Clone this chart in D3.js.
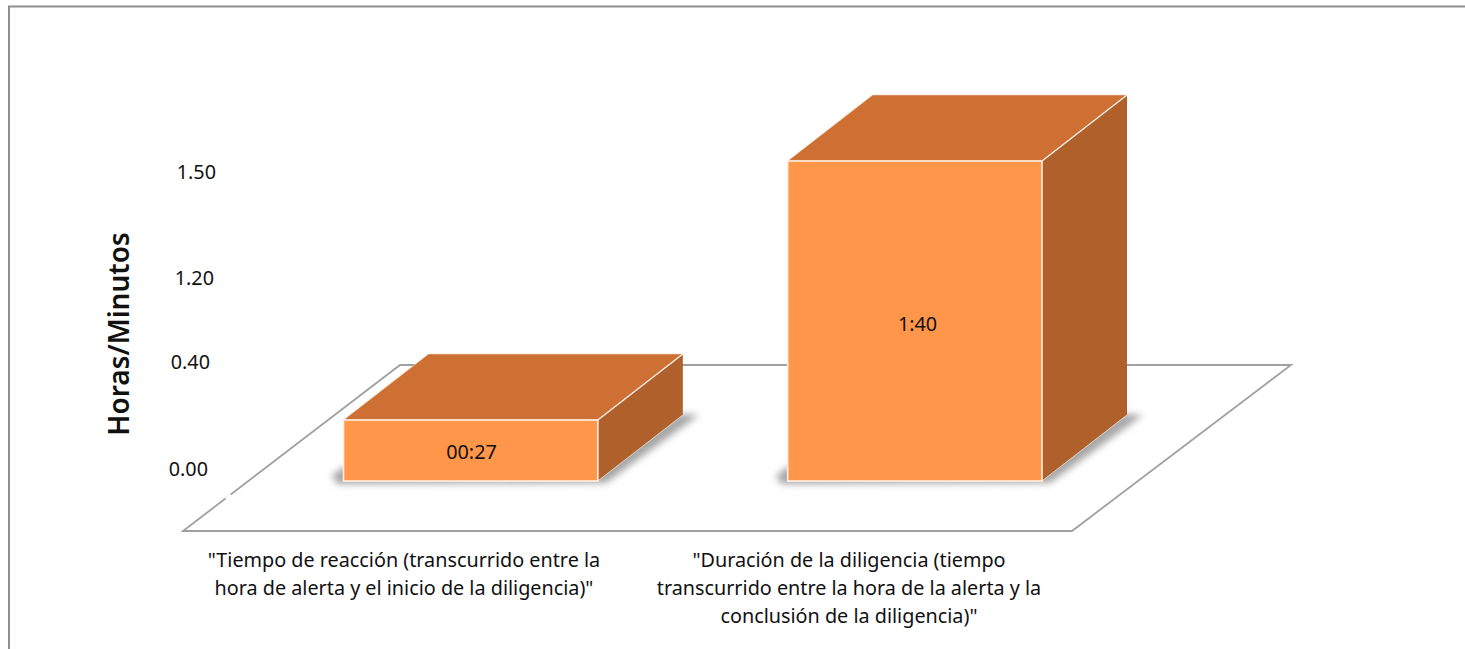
<!DOCTYPE html>
<html><head><meta charset="utf-8">
<script src="https://cdn.jsdelivr.net/npm/d3@7"></script>
<style>html,body{margin:0;padding:0;background:#fff;overflow:hidden}svg{display:block}text{font-family:"Noto Sans","Open Sans",sans-serif;fill:#111}</style>
</head><body><script>
const categories = ["tiempo","duracion"];
const categoryLines = [
  ['"Tiempo de reacción (transcurrido entre la','hora de alerta y el inicio de la diligencia)"'],
  ['"Duración de la diligencia (tiempo','transcurrido entre la hora de la alerta y la','conclusión de la diligencia)"']
];
const minutes = [27,100];
const valueLabels = ["00:27","1:40"];
const tickMinutes = [0,40,80,110];
const tickLabels = ["0.00","0.40","1.20","1.50"];
const yTitle = "Horas/Minutos";

const W=1465,H=649;
const svg=d3.select("body").append("svg").attr("width",W).attr("height",H);
const defs=svg.append("defs");
defs.append("filter").attr("id","blur").attr("x","-20%").attr("y","-20%").attr("width","140%").attr("height","140%")
  .append("feGaussianBlur").attr("stdDeviation",3.5);

const x=d3.scaleBand().domain(categories).range([343.5,1042]).paddingInner(0.4274).paddingOuter(0);
const y=d3.scaleLinear().domain([0,27,100]).range([481,420,161]);
const yTick=d3.scaleLinear().domain([0,40,80,110]).range([469,362,278,172]);
const dx=85,dy=-66;
const pts=a=>a.map(p=>p.join(",")).join(" ");

// frame
svg.append("path").attr("d",`M9,${H}V6.5H${W}`).attr("fill","none").attr("stroke","#8f8f8f").attr("stroke-width",2);

// floor
svg.append("polygon").attr("points",pts([[183,531],[1072,531],[1291,365],[400,365]]))
  .attr("fill","#fff").attr("stroke","#a0a0a0").attr("stroke-width",1.8);
svg.append("line").attr("x1",226).attr("y1",499).attr("x2",231).attr("y2",495).attr("stroke","#fff").attr("stroke-width",3);

const bars=svg.selectAll("g.bar").data(categories).join("g").attr("class","bar");
bars.append("polygon").attr("fill","#808080").attr("opacity",.7).attr("filter","url(#blur)")
  .attr("points",(d)=>{const l=x(d),r=l+x.bandwidth(),b=y(0);
    return pts([[l-12,b-5],[l,b-14],[r,b-14],[r+dx-4,b+dy-1],[r+dx+16,b+dy],[r+8,b+2],[l-6,b+3]]);});
bars.append("polygon").attr("fill","#CE7033").attr("stroke","#f5d9c4").attr("stroke-width",.6)
  .attr("points",(d,i)=>{const l=x(d),r=l+x.bandwidth(),t=y(minutes[i]);
    return pts([[l,t],[r,t],[r+dx,t+dy],[l+dx,t+dy]]);});
bars.append("polygon").attr("fill","#B0602A")
  .attr("points",(d,i)=>{const r=x(d)+x.bandwidth(),t=y(minutes[i]),b=y(0);
    return pts([[r,t],[r+dx,t+dy],[r+dx,b+dy],[r,b]]);});
bars.append("line").attr("stroke","#f6efe9").attr("stroke-width",1.4)
  .attr("x1",d=>x(d)+x.bandwidth()).attr("x2",d=>x(d)+x.bandwidth()+dx)
  .attr("y1",(d,i)=>y(minutes[i])).attr("y2",(d,i)=>y(minutes[i])+dy);
bars.append("line").attr("stroke","#d9d2cc").attr("stroke-width",1)
  .attr("x1",d=>x(d)+x.bandwidth()).attr("x2",d=>x(d)+x.bandwidth()+dx)
  .attr("y1",y(0)).attr("y2",y(0)+dy);
bars.append("rect").attr("fill","#FF964A").attr("stroke","#fff0e4").attr("stroke-width",1.6)
  .attr("x",d=>x(d)).attr("width",x.bandwidth())
  .attr("y",(d,i)=>y(minutes[i])).attr("height",(d,i)=>y(0)-y(minutes[i]));
bars.append("text").attr("text-anchor","middle").attr("font-size",19.8).attr("dy","0.35em")
  .attr("x",(d,i)=>[471.5,917.5][i]).attr("y",(d,i)=>[452,324][i])
  .text((d,i)=>valueLabels[i]);

// y ticks
svg.selectAll("text.tick").data(tickMinutes).join("text").attr("class","tick")
  .attr("text-anchor","end").attr("font-size",19.8).attr("dy","0.35em")
  .attr("x",(d,i)=>[208,210,214,216][i]).attr("y",d=>yTick(d)).text((d,i)=>tickLabels[i]);

svg.append("text").attr("text-anchor","middle").attr("font-size",28).attr("font-weight",600)
  .attr("transform","translate(119,334) rotate(-90)").attr("dy","0.35em").text(yTitle);

// category labels
const labelCenters=[404,849];
categories.forEach((c,i)=>{
  svg.append("text").attr("text-anchor","middle").attr("font-size",19.8)
    .selectAll("tspan").data(categoryLines[i]).join("tspan")
    .attr("x",labelCenters[i]).attr("y",(d,j)=>567+j*27.8).text(d=>d);
});
</script></body></html>
